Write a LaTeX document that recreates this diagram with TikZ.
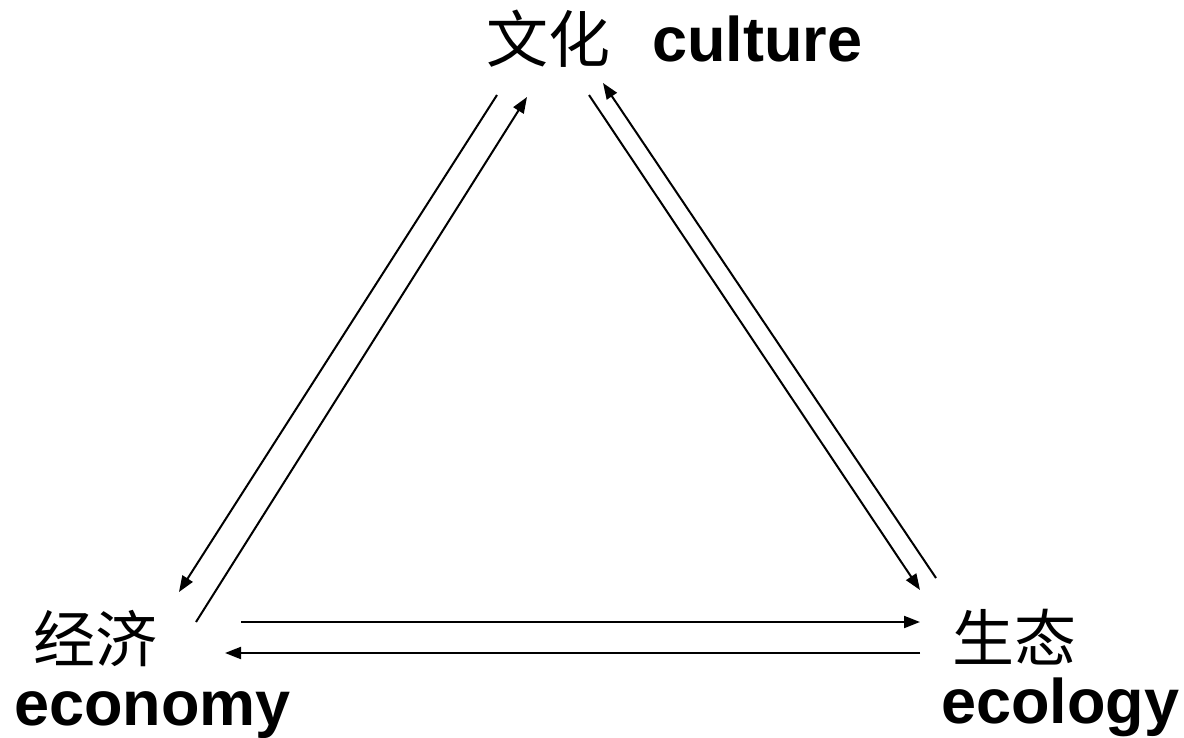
\documentclass[tikz,border=0pt]{standalone}
\usepackage{fontspec}
\setmainfont{Liberation Sans}
\newfontfamily\cjk{Noto Sans CJK SC}
\usetikzlibrary{arrows.meta}
\begin{document}
\begin{tikzpicture}[x=1pt,y=-1pt,
  zh/.style={font=\cjk\fontsize{62}{64}\selectfont, inner sep=0pt, anchor=center},
  en/.style={font=\bfseries\fontsize{63}{66}\selectfont, inner sep=0pt, anchor=base west},
  link/.style={line width=2pt, -{Triangle[length=16pt,width=12pt]}}]
\useasboundingbox (0,0) rectangle (1184,738);
\node[zh] (wh) at (548,39) {文化};
\node[en] (cu) at (652,62) {culture};
\node[zh] (jj) at (96,639) {经济};
\node[en] (ec) at (14,725) {economy};
\node[zh] (st) at (1014,637) {生态};
\node[en] (eo) at (941,723) {ecology};
% endpoints
\coordinate (a1) at (497,95);  \coordinate (a2) at (179,592);
\coordinate (b1) at (196,622); \coordinate (b2) at (527,97);
\coordinate (c1) at (589,95);  \coordinate (c2) at (920,590);
\coordinate (d1) at (936,578); \coordinate (d2) at (603,83);
\coordinate (e1) at (241,622); \coordinate (e2) at (920,622);
\coordinate (f1) at (920,653); \coordinate (f2) at (225,653);
\draw[link] (a1) -- (a2);
\draw[link] (b1) -- (b2);
\draw[link] (c1) -- (c2);
\draw[link] (d1) -- (d2);
\draw[link] (e1) -- (e2);
\draw[link] (f1) -- (f2);
\end{tikzpicture}
\end{document}
